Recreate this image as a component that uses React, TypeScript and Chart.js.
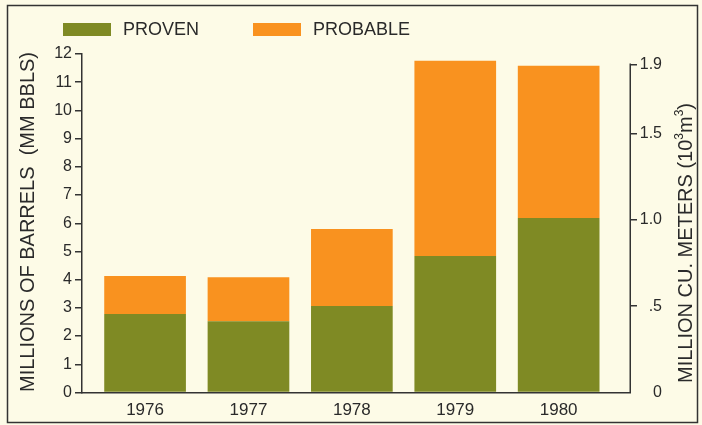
import React, { useEffect, useRef } from 'react';
import { Chart, registerables } from 'chart.js';

Chart.register(...registerables);

const YEARS = ['1976', '1977', '1978', '1979', '1980'];
const PROVEN = [2.78, 2.53, 3.07, 4.84, 6.19];
const PROBABLE = [1.35, 1.56, 2.73, 6.92, 5.39];
const SERIES_LABELS = ['PROVEN', 'PROBABLE'];
const SERIES_COLORS = ['#7f8a24', '#f9921f'];
const LEFT_TICKS = [0, 1, 2, 3, 4, 5, 6, 7, 8, 9, 10, 11, 12];
const RIGHT_TICKS = [0, 0.5, 1.0, 1.5, 1.9];
const RIGHT_TICK_LABELS = ['0', '.5', '1.0', '1.5', '1.9'];
const LEFT_TITLE = 'MILLIONS OF BARRELS  (MM BBLS)';
const RIGHT_TITLE_PARTS: [string, boolean][] = [
  ['MILLION CU. METERS (10', false],
  ['3', true],
  ['m', false],
  ['3', true],
  [')', false],
];

const FONT = "'Liberation Sans', Arial, Helvetica, sans-serif";
const INK = '#2a2a2a';
const BG = '#fdfbe7';

const decorPlugin = {
  id: 'decor',
  beforeDraw(chart: any) {
    const ctx = chart.ctx;
    ctx.save();
    ctx.fillStyle = BG;
    ctx.fillRect(0, 0, chart.width, chart.height);
    ctx.restore();
  },
  afterDraw(chart: any) {
    const ctx = chart.ctx;
    ctx.save();
    // frame
    ctx.strokeStyle = '#333';
    ctx.lineWidth = 1.5;
    ctx.strokeRect(7.5, 5.5, 690, 417);

    // right axis line from 0 to 1.9, and its labels (right-aligned)
    const s = chart.scales.y2;
    ctx.strokeStyle = '#333';
    ctx.lineWidth = 1.5;
    ctx.beginPath();
    const x = Math.round(s.left) + 0.25;
    ctx.moveTo(x, s.getPixelForValue(0));
    ctx.lineTo(x, s.getPixelForValue(RIGHT_TICKS[RIGHT_TICKS.length - 1]) - 0.75);
    ctx.stroke();
    ctx.fillStyle = INK;
    ctx.font = `16px ${FONT}`;
    ctx.textAlign = 'right';
    ctx.textBaseline = 'middle';
    RIGHT_TICKS.forEach((v, i) => {
      ctx.fillText(RIGHT_TICK_LABELS[i], s.left + 32, s.getPixelForValue(v));
    });

    // legend
    const legendX = [63, 253];
    chart.data.datasets.forEach((ds: any, i: number) => {
      ctx.fillStyle = ds.backgroundColor;
      ctx.fillRect(legendX[i], 23, 48, 13);
      ctx.fillStyle = INK;
      ctx.font = `18px ${FONT}`;
      ctx.textBaseline = 'middle';
      ctx.textAlign = 'left';
      ctx.fillText(ds.label, legendX[i] + 60, 30);
    });

    // left title
    ctx.save();
    ctx.translate(28, 222);
    ctx.rotate(-Math.PI / 2);
    ctx.font = `20px ${FONT}`;
    ctx.fillStyle = INK;
    ctx.textAlign = 'center';
    ctx.textBaseline = 'middle';
    ctx.fillText(LEFT_TITLE, 0, 0);
    ctx.restore();

    // right title
    ctx.save();
    ctx.translate(686, 243);
    ctx.rotate(-Math.PI / 2);
    ctx.fillStyle = INK;
    ctx.textBaseline = 'middle';
    ctx.textAlign = 'left';
    let total = 0;
    RIGHT_TITLE_PARTS.forEach(([t, sup]) => {
      ctx.font = sup ? `12px ${FONT}` : `20px ${FONT}`;
      total += ctx.measureText(t).width;
    });
    let cx = -total / 2;
    RIGHT_TITLE_PARTS.forEach(([t, sup]) => {
      ctx.font = sup ? `12px ${FONT}` : `20px ${FONT}`;
      ctx.fillText(t, cx, sup ? -6 : 0);
      cx += ctx.measureText(t).width;
    });
    ctx.restore();

    ctx.restore();
  },
};

export default function App() {
  const ref = useRef<HTMLCanvasElement | null>(null);

  useEffect(() => {
    if (!ref.current) return;
    const chart = new Chart(ref.current, {
      type: 'bar',
      data: {
        datasets: [
          {
            label: SERIES_LABELS[0],
            data: PROVEN.map((v, i) => ({ x: i, y: v })),
            backgroundColor: SERIES_COLORS[0],
            borderWidth: 0,
            barPercentage: 0.79,
            categoryPercentage: 1,
            yAxisID: 'y',
          },
          {
            label: SERIES_LABELS[1],
            data: PROBABLE.map((v, i) => ({ x: i, y: v })),
            backgroundColor: SERIES_COLORS[1],
            borderWidth: 0,
            barPercentage: 0.79,
            categoryPercentage: 1,
            yAxisID: 'y',
          },
        ],
      },
      options: {
        animation: false,
        responsive: false,
        events: [],
        layout: { padding: { top: 54, left: 0, right: 0, bottom: 0 } },
        plugins: {
          legend: { display: false },
          tooltip: { enabled: false },
          title: { display: false },
        },
        scales: {
          x: {
            type: 'linear',
            stacked: true,
            offset: false,
            min: -0.61,
            max: 4.69,
            afterBuildTicks: (s: any) => {
              s.ticks = YEARS.map((_, i) => ({ value: i }));
            },
            afterFit: (s: any) => {
              s.height = 32.5;
            },
            ticks: {
              autoSkip: false,
              maxRotation: 0,
              padding: 8,
              color: INK,
              font: { family: FONT, size: 17 },
              callback: (_v: any, i: number) => YEARS[i],
            },
            grid: { display: false, drawTicks: false },
            border: { display: true, color: '#333', width: 1.5 },
          },
          y: {
            type: 'linear',
            position: 'left',
            stacked: true,
            min: 0,
            max: 12,
            afterBuildTicks: (s: any) => {
              s.ticks = LEFT_TICKS.map((v) => ({ value: v }));
            },
            afterFit: (s: any) => {
              s.width = 82;
            },
            ticks: {
              padding: 3,
              color: INK,
              font: { family: FONT, size: 16 },
            },
            grid: {
              drawOnChartArea: false,
              tickLength: 7,
              color: '#333',
              lineWidth: 1.5,
            },
            border: { display: true, color: '#333', width: 1.5 },
          },
          y2: {
            type: 'linear',
            position: 'right',
            min: 0,
            max: 1.96,
            afterBuildTicks: (s: any) => {
              s.ticks = RIGHT_TICKS.map((v) => ({ value: v }));
            },
            afterFit: (s: any) => {
              s.width = 72;
            },
            ticks: {
              display: false,
            },
            grid: {
              drawOnChartArea: false,
              drawTicks: true,
              tickLength: 7,
              lineWidth: 1.5,
              color: (c: any) => (c.tick && c.tick.value === 0 ? 'rgba(0,0,0,0)' : '#333'),
            },
            border: { display: false },
          },
        },
      } as any,
      plugins: [decorPlugin],
    });
    return () => chart.destroy();
  }, []);

  return (
    <div style={{ position: 'absolute', left: 0, top: 0, width: 702, height: 425 }}>
      <canvas ref={ref} width={702} height={425} style={{ display: 'block' }} />
    </div>
  );
}
